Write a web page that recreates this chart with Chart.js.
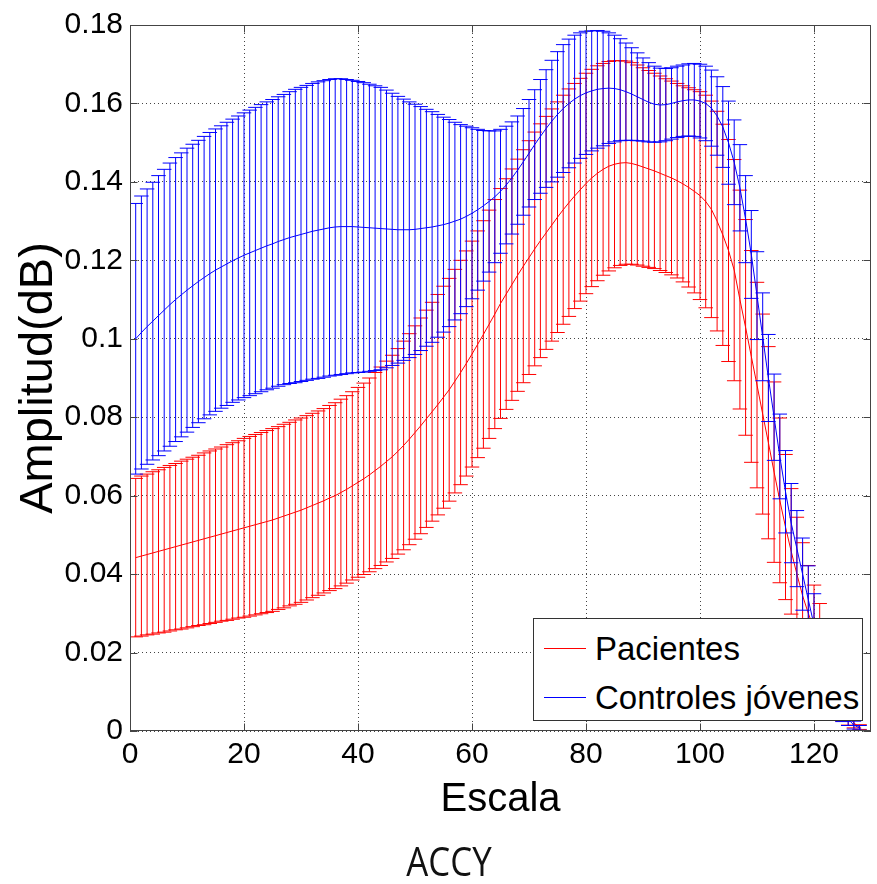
<!DOCTYPE html>
<html>
<head>
<meta charset="utf-8">
<script src="https://cdn.jsdelivr.net/npm/chart.js@4.4.0/dist/chart.umd.min.js"></script>
<style>
  html, body { margin: 0; padding: 0; background: #fff; }
  #wrap { position: relative; width: 877px; height: 884px; overflow: hidden; }
  #legend {
    position: absolute; left: 533px; top: 618px; width: 328px; height: 101px;
    background: #fff; border: 1px solid #333;
    font-family: "Liberation Sans", Arial, sans-serif; font-size: 33px; color: #000;
  }
  .swatch { position: absolute; left: 10px; width: 42px; height: 1px; }
  .label { position: absolute; left: 61px; line-height: 33px; white-space: nowrap; }
  #caption {
    position: absolute; left: 349px; width: 200px; top: 841px; text-align: center;
    font-family: "Open Sans", sans-serif; font-size: 40px; line-height: 40px; color: #111;
    transform: scaleX(0.87);
  }
</style>
</head>
<body>
<div id="wrap">
  <canvas id="chart" width="877" height="884"></canvas>
  <div id="legend">
    <div class="swatch" style="top:29px;background:#f00"></div>
    <div class="label" style="top:13px">Pacientes</div>
    <div class="swatch" style="top:78px;background:#00f"></div>
    <div class="label" style="top:62px">Controles jóvenes</div>
  </div>
  <div id="caption">ACCY</div>
</div>
<script>
// Escala (x)
const escala = [
  1, 2, 3, 4, 5, 6, 7, 8, 9, 10, 11, 12, 13, 14, 15, 16,
  17, 18, 19, 20, 21, 22, 23, 24, 25, 26, 27, 28, 29, 30, 31, 32,
  33, 34, 35, 36, 37, 38, 39, 40, 41, 42, 43, 44, 45, 46, 47, 48,
  49, 50, 51, 52, 53, 54, 55, 56, 57, 58, 59, 60, 61, 62, 63, 64,
  65, 66, 67, 68, 69, 70, 71, 72, 73, 74, 75, 76, 77, 78, 79, 80,
  81, 82, 83, 84, 85, 86, 87, 88, 89, 90, 91, 92, 93, 94, 95, 96,
  97, 98, 99, 100, 101, 102, 103, 104, 105, 106, 107, 108, 109, 110, 111, 112,
  113, 114, 115, 116, 117, 118, 119, 120, 121, 122, 123, 124, 125, 126, 127, 128
];

// Pacientes - media
const pacientesMedia = [
  .0442, .0446, .0450, .0454, .0458, .0462, .0466, .0470, .0474, .0478, .0482, .0486, .0490, .0494, .0498, .0502,
  .0506, .0510, .0514, .0518, .0522, .0526, .0530, .0534, .0538, .0543, .0548, .0553, .0558, .0563, .0569, .0575,
  .0581, .0587, .0594, .0600, .0608, .0616, .0625, .0634, .0643, .0653, .0664, .0675, .0687, .0699, .0713, .0728,
  .0744, .0761, .0778, .0796, .0814, .0832, .0851, .0870, .0892, .0914, .0937, .0961, .0986, .1011, .1037, .1063,
  .1090, .1114, .1138, .1162, .1185, .1207, .1229, .1250, .1270, .1290, .1310, .1329, .1347, .1364, .1380, .1396,
  .1410, .1422, .1432, .1440, .1445, .1448, .1449, .1447, .1443, .1438, .1433, .1428, .1422, .1416, .1410, .1403,
  .1395, .1386, .1376, .1365, .1350, .1330, .1300, .1265, .1225, .1175, .1100, .1029, .0955, .0882, .0808, .0735,
  .0660, .0588, .0520, .0458, .0400, .0345, .0300, .0260, .0220, .0180, .0140, .0100, .0070, .0040, .0020, .0010
];
// Pacientes - desviacion
const pacientesDesv = [
  .0202, .0204, .0205, .0207, .0208, .0210, .0211, .0212, .0214, .0215, .0216, .0217, .0219, .0220, .0221, .0222,
  .0224, .0225, .0226, .0228, .0229, .0230, .0231, .0232, .0233, .0233, .0234, .0234, .0235, .0235, .0235, .0235,
  .0235, .0235, .0236, .0237, .0238, .0239, .0240, .0242, .0244, .0247, .0250, .0253, .0256, .0259, .0262, .0266,
  .0269, .0272, .0275, .0277, .0279, .0281, .0283, .0284, .0285, .0286, .0287, .0288, .0289, .0290, .0291, .0292,
  .0293, .0294, .0295, .0296, .0297, .0298, .0298, .0298, .0297, .0296, .0294, .0292, .0290, .0287, .0284, .0281,
  .0277, .0274, .0270, .0267, .0264, .0261, .0259, .0257, .0255, .0253, .0251, .0249, .0248, .0247, .0247, .0248,
  .0250, .0254, .0259, .0265, .0271, .0276, .0280, .0282, .0283, .0282, .0279, .0275, .0270, .0262, .0255, .0245,
  .0230, .0210, .0185, .0160, .0145, .0135, .0122, .0112, .0105, .0095, .0080, .0065, .0045, .0025, .0012, .0006
];

// Controles jovenes - media
const controlesMedia = [
  .1000, .1016, .1031, .1045, .1059, .1073, .1087, .1100, .1112, .1124, .1135, .1146, .1156, .1166, .1175, .1183,
  .1191, .1199, .1206, .1213, .1219, .1225, .1231, .1237, .1242, .1248, .1253, .1258, .1262, .1266, .1270, .1274,
  .1277, .1280, .1283, .1285, .1286, .1286, .1286, .1285, .1284, .1283, .1282, .1281, .1280, .1279, .1278, .1278,
  .1278, .1279, .1281, .1283, .1285, .1288, .1291, .1295, .1300, .1305, .1312, .1320, .1329, .1339, .1350, .1362,
  .1376, .1392, .1410, .1430, .1451, .1473, .1495, .1516, .1536, .1555, .1572, .1587, .1600, .1611, .1620, .1627,
  .1632, .1636, .1638, .1639, .1638, .1635, .1630, .1624, .1617, .1610, .1603, .1598, .1596, .1597, .1600, .1604,
  .1607, .1609, .1609, .1606, .1600, .1588, .1568, .1540, .1500, .1450, .1385, .1305, .1215, .1110, .1005, .0900,
  .0800, .0700, .0610, .0530, .0465, .0400, .0335, .0270, .0210, .0160, .0115, .0080, .0050, .0030, .0015, .0008
];
// Controles jovenes - desviacion
const controlesDesv = [
  .0345, .0348, .0351, .0354, .0357, .0359, .0361, .0362, .0362, .0362, .0361, .0360, .0360, .0360, .0360, .0360,
  .0361, .0361, .0362, .0363, .0364, .0365, .0366, .0367, .0368, .0369, .0370, .0372, .0374, .0375, .0376, .0377,
  .0378, .0378, .0378, .0378, .0377, .0375, .0373, .0371, .0369, .0366, .0363, .0360, .0354, .0347, .0340, .0333,
  .0326, .0319, .0311, .0302, .0294, .0284, .0274, .0264, .0252, .0241, .0230, .0218, .0205, .0192, .0180, .0168,
  .0158, .0150, .0143, .0138, .0136, .0137, .0140, .0145, .0150, .0155, .0160, .0163, .0164, .0163, .0160, .0157,
  .0153, .0150, .0146, .0141, .0136, .0130, .0124, .0118, .0112, .0106, .0101, .0097, .0094, .0092, .0091, .0091,
  .0091, .0092, .0093, .0094, .0095, .0097, .0100, .0103, .0106, .0108, .0110, .0111, .0112, .0112, .0112, .0111,
  .0110, .0108, .0105, .0101, .0097, .0092, .0086, .0080, .0072, .0062, .0050, .0038, .0026, .0016, .0010, .0006
];

// tick labels
const xTickLabels = [0, 20, 40, 60, 80, 100, 120];
const xMax = 130;
const yMax = 0.18;

// half width of the error bar tee, in x units
const CAP = 1.27;

function meanPoints(mean) {
  return escala.map((x, i) => ({ x: x, y: mean[i] }));
}

// vertical bar + two tees per point, separated by gaps
function errorPoints(mean, err) {
  const pts = [];
  escala.forEach((x, i) => {
    const lo = mean[i] - err[i];
    const hi = mean[i] + err[i];
    pts.push({ x: x, y: lo }, { x: x, y: hi }, { x: x, y: null });
    pts.push({ x: x - CAP, y: hi }, { x: x + CAP, y: hi }, { x: x, y: null });
    pts.push({ x: x - CAP, y: lo }, { x: x + CAP, y: lo }, { x: x, y: null });
  });
  return pts;
}

// box round the axes with inward ticks, like matlab
const frame = {
  id: "frame",
  afterDatasetsDraw(chart) {
    const { ctx, chartArea: a, scales } = chart;
    ctx.save();
    ctx.strokeStyle = "#444";
    ctx.lineWidth = 1;
    const L = Math.round(a.left) + 0.5, R = Math.round(a.right) - 0.5;
    const T = Math.round(a.top) + 0.5, B = Math.round(a.bottom) - 0.5;
    ctx.strokeRect(L, T, R - L, B - T);
    ctx.beginPath();
    scales.x.ticks.forEach((t) => {
      const px = Math.round(scales.x.getPixelForValue(t.value)) + 0.5;
      ctx.moveTo(px, B); ctx.lineTo(px, B - 7);
      ctx.moveTo(px, T); ctx.lineTo(px, T + 7);
    });
    scales.y.ticks.forEach((t) => {
      const py = Math.round(scales.y.getPixelForValue(t.value)) + 0.5;
      ctx.moveTo(L, py); ctx.lineTo(L + 7, py);
      ctx.moveTo(R, py); ctx.lineTo(R - 7, py);
    });
    ctx.stroke();
    ctx.restore();
  },
};

const tickFont = { family: "'Liberation Sans', Arial, sans-serif", size: 30 };

new Chart(document.getElementById("chart"), {
  type: "line",
  data: {
    datasets: [
      {
        label: "Controles jóvenes",
        data: meanPoints(controlesMedia),
        borderColor: "#0000ff",
        borderWidth: 1,
        pointRadius: 0,
        order: 1,
      },
      {
        label: "errores controles",
        data: errorPoints(controlesMedia, controlesDesv),
        borderColor: "#0000ff",
        borderWidth: 1,
        pointRadius: 0,
        spanGaps: false,
        order: 2,
      },
      {
        label: "Pacientes",
        data: meanPoints(pacientesMedia),
        borderColor: "#ff0000",
        borderWidth: 1,
        pointRadius: 0,
        order: 3,
      },
      {
        label: "errores pacientes",
        data: errorPoints(pacientesMedia, pacientesDesv),
        borderColor: "#ff0000",
        borderWidth: 1,
        pointRadius: 0,
        spanGaps: false,
        order: 4,
      },
    ],
  },
  options: {
    responsive: false,
    animation: false,
    layout: { padding: { top: 22, right: 6, left: 0, bottom: 52 } },
    plugins: {
      legend: { display: false },
      tooltip: { enabled: false },
    },
    scales: {
      x: {
        type: "linear",
        bounds: "data",
        min: 0,
        max: xMax,
        afterBuildTicks(scale) {
          scale.ticks = xTickLabels.map((v) => ({ value: v }));
        },
        ticks: {
          color: "#000",
          font: tickFont,
          padding: 6,
          maxRotation: 0,
        },
        grid: { color: "#444", drawTicks: false },
        border: { display: false, dash: [1, 3] },
        title: {
          display: true,
          text: "Escala",
          color: "#000",
          font: { family: "'Liberation Sans', Arial, sans-serif", size: 40, lineHeight: 1 },
          padding: { top: 0, bottom: 12 },
        },
        afterFit(scale) {
          scale.height = 884 - 731 - 52;
        },
      },
      y: {
        type: "linear",
        bounds: "data",
        min: 0,
        max: yMax,
        ticks: {
          stepSize: 0.02,
          color: "#000",
          font: tickFont,
          padding: 7,
          callback: (v) => String(Number(v.toFixed(2))),
        },
        grid: { color: "#444", drawTicks: false },
        border: { display: false, dash: [1, 3] },
        title: {
          display: true,
          text: "Amplitud(dB)",
          color: "#000",
          font: { family: "'Liberation Sans', Arial, sans-serif", size: 47, lineHeight: 1 },
          padding: { top: 16, bottom: 0 },
        },
        afterFit(scale) {
          scale.width = 130;
        },
      },
    },
  },
  plugins: [frame],
});
</script>
</body>
</html>
